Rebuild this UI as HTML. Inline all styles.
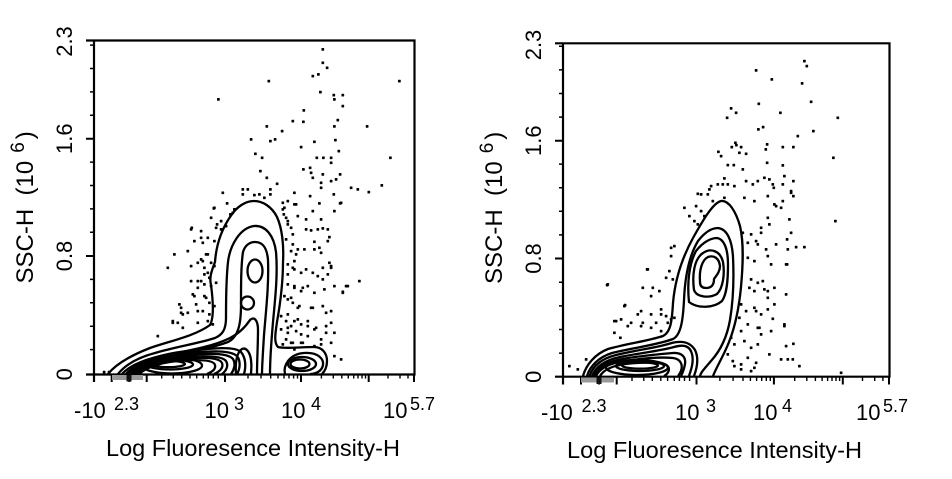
<!DOCTYPE html>
<html><head><meta charset="utf-8"><style>html,body{margin:0;padding:0;background:#fff}svg{display:block}</style></head>
<body>
<svg width="952" height="479" viewBox="0 0 952 479" xmlns="http://www.w3.org/2000/svg" font-family="'Liberation Sans', Arial, sans-serif" fill="#000">
<rect width="952" height="479" fill="#fff"/>

<!-- ================= LEFT PANEL ================= -->
<g stroke="#000" fill="none">
  <path d="M86 40.5H414.5V374.5H86M94 40.5V382" stroke-width="2.2"/>
  <path d="M86 138.7H94M86 256H94" stroke-width="2"/>
  <path d="M90 45.1H94M90 68.5H94M90 91.9H94M90 115.3H94M90 162.1H94M90 185.5H94M90 208.9H94M90 232.3H94M90 279.4H94M90 302.8H94M90 326.2H94M90 349.6H94" stroke-width="1.5"/>
  <path d="M111.7 374V382M129.3 374V382M146.7 374V382M225 374V382M301 374V382M368.7 374V382M414 374V382" stroke-width="2"/>
  <path d="M161.7 374V378.5M173.3 374V378.5M181.7 374V378.5M190 374V378.5M196.7 374V378.5M203.3 374V378.5M208.3 374V378.5M213.3 374V378.5M218.3 374V378.5M248 374V378.5M261 374V378.5M270.7 374V378.5M278 374V378.5M284 374V378.5M289 374V378.5M293.6 374V378.5M297.5 374V378.5M321.4 374V378.5M333.3 374V378.5M341.8 374V378.5M348.3 374V378.5M353.7 374V378.5M358 374V378.5M362 374V378.5M365.5 374V378.5M388 374V378.5M400 374V378.5M408 374V378.5" stroke-width="1.4"/>
</g>
<rect x="112" y="375" width="31" height="5" fill="#9a9a9a"/>
<rect x="126.5" y="375" width="5" height="6.5" fill="#111"/>

<!-- left contours -->
<g stroke="#000" fill="none" stroke-width="2.3">
  <path d="M108 374C116 364 132 355 150 348C170 341 195 336 210 325C214 318 213 300 211 285C209 277 212 270 215 262C216 248 220 232 230 217C237 206 246 201 254 201C263 201 272 207 277 217C282 228 284 245 283 262C283 285 280 305 277 322C275 335 274 343 278 347C284 349 300 347 314 347C322 347 327 353 327 361C327 367 325 371 322 374"/>
  <path d="M118 374C126 364 140 357 155 353C175 347 200 343 215 338C222 335 226 330 226 318C226 300 226 280 228 262C230 245 240 228 254 226C266 225 274 236 276 252C278 275 275 300 273 322C271 345 270 362 270 374"/>
  <path d="M126 374C134 365 150 359 168 356C190 352 212 348 228 342C238 337 241 325 241 305C241 285 241 265 243 252C245 245 250 242 255 242C263 242 267 248 268 260C269 285 266 310 264 335C263 352 262 366 262 374"/>
  <ellipse cx="255" cy="271" rx="7.5" ry="11.5"/>
  <ellipse cx="247.5" cy="303" rx="6.5" ry="6.5"/>
  <path d="M122 374C130 365 148 358 168 354.5C192 350 214 346 230 338C240 333 246 326 250 320C254 316 258 320 258 330C258 345 257 360 257 374"/>
  <path d="M128 374C136 363 158 354 188 351C215 348 234 346 241 352C246 358 246 367 244 374"/>
  <path d="M236 374C235 362 237 352 242 349C246 347 250 352 251 360C252 367 251 371 251 374"/>
  <path d="M131 374C138 364 160 356 188 353C212 351 230 350 237 356C241 361 240 369 237 374"/>
  <path d="M133 374C140 365 160 357 188 355C210 353 228 353 233 359C236 364 234 370 231 374"/>
  <path d="M135 374C142 366 162 359 187 357C207 355.5 222 356 226 361C229 366 226 371 222 374"/>
  <path d="M137 374C144 366 162 360 186 358.5C206 357 220 358 222 363C224 368 219 372 214 374"/>
  <path d="M139.5 374C146 367 163 361.5 185 360.5C202 359.5 214 360.5 215 365C216 369 212 372 207 374"/>
  <ellipse cx="172" cy="365.5" rx="30" ry="8"/>
  <ellipse cx="170" cy="364.5" rx="23" ry="5"/>
  <ellipse cx="168" cy="364" rx="17" ry="3.2"/>
  <path d="M285 374C283 366 289 354 304 353C318 352 324 359 323 365C322 371 316 374 310 374"/>
  <ellipse cx="302" cy="364" rx="14" ry="7"/>
  <ellipse cx="300" cy="364" rx="9.5" ry="4.5"/>
</g>

<!-- left dots -->
<path fill="#000" stroke="#000" stroke-width="0.5" d="M321.7 48.3h2.2v2.2h-2.2zM321.7 61.7h2.2v2.2h-2.2zM326 66.7h2.2v2.2h-2.2zM311.7 75h2.2v2.2h-2.2zM317.3 73.3h2.2v2.2h-2.2zM267.7 80h2.2v2.2h-2.2zM398.3 80h2.2v2.2h-2.2zM217.3 98.3h2.2v2.2h-2.2zM319.3 91h2.2v2.2h-2.2zM333.3 98.3h2.2v2.2h-2.2zM341.7 94h2.2v2.2h-2.2zM332.7 94h2.2v2.2h-2.2zM341.7 105h2.2v2.2h-2.2zM302.7 109.3h2.2v2.2h-2.2zM291.7 120h2.2v2.2h-2.2zM302.3 120.7h2.2v2.2h-2.2zM336.7 119h2.2v2.2h-2.2zM265.7 125.3h2.2v2.2h-2.2zM281 130h2.2v2.2h-2.2zM366 125.3h2.2v2.2h-2.2zM333.3 125.3h2.2v2.2h-2.2zM250 138.3h2.2v2.2h-2.2zM269.3 140h2.2v2.2h-2.2zM274 138.3h2.2v2.2h-2.2zM313.3 140.7h2.2v2.2h-2.2zM334.3 139h2.2v2.2h-2.2zM300 146h2.2v2.2h-2.2zM337.7 150h2.2v2.2h-2.2zM254.3 152.7h2.2v2.2h-2.2zM261 156.7h2.2v2.2h-2.2zM315.7 156.7h2.2v2.2h-2.2zM322.3 156.7h2.2v2.2h-2.2zM330 156.7h2.2v2.2h-2.2zM330 161.7h2.2v2.2h-2.2zM389.3 156.7h2.2v2.2h-2.2zM309 166.7h2.2v2.2h-2.2zM302.3 168.3h2.2v2.2h-2.2zM310 171.7h2.2v2.2h-2.2zM259.3 170h2.2v2.2h-2.2zM321.7 173.3h2.2v2.2h-2.2zM339 173.3h2.2v2.2h-2.2zM335 178.3h2.2v2.2h-2.2zM330 180h2.2v2.2h-2.2zM265.7 176.7h2.2v2.2h-2.2zM311.7 176.7h2.2v2.2h-2.2zM320 181.7h2.2v2.2h-2.2zM320 186.7h2.2v2.2h-2.2zM276 182.7h2.2v2.2h-2.2zM350 186.7h2.2v2.2h-2.2zM356.7 188.3h2.2v2.2h-2.2zM367.7 191h2.2v2.2h-2.2zM380.7 184.3h2.2v2.2h-2.2zM241.7 188.3h2.2v2.2h-2.2zM246.7 188.3h2.2v2.2h-2.2zM269.3 188.3h2.2v2.2h-2.2zM269.3 193.3h2.2v2.2h-2.2zM293.3 191.7h2.2v2.2h-2.2zM332.7 193.3h2.2v2.2h-2.2zM339 202.3h2.2v2.2h-2.2zM309 195h2.2v2.2h-2.2zM221.7 191.7h2.2v2.2h-2.2zM226 202.3h2.2v2.2h-2.2zM212.7 207.3h2.2v2.2h-2.2zM241.7 193.3h2.2v2.2h-2.2zM253.3 194h2.2v2.2h-2.2zM258.3 193.3h2.2v2.2h-2.2zM263.3 196.7h2.2v2.2h-2.2zM318.3 202.3h2.2v2.2h-2.2zM295 203.3h2.2v2.2h-2.2zM311.7 210h2.2v2.2h-2.2zM231.7 211.7h2.2v2.2h-2.2zM305 218.3h2.2v2.2h-2.2zM320 218.3h2.2v2.2h-2.2z
M281.7 201.7h2.2v2.2h-2.2zM286.7 200h2.2v2.2h-2.2zM293.3 203.3h2.2v2.2h-2.2zM340 201.7h2.2v2.2h-2.2zM213.3 206.7h2.2v2.2h-2.2zM233.3 208.3h2.2v2.2h-2.2zM281.7 208.3h2.2v2.2h-2.2zM282.7 213.3h2.2v2.2h-2.2zM285 216.7h2.2v2.2h-2.2zM286.7 220h2.2v2.2h-2.2zM290 226.7h2.2v2.2h-2.2zM333.3 210h2.2v2.2h-2.2zM296.7 215h2.2v2.2h-2.2zM305 228.3h2.2v2.2h-2.2zM316.7 228.3h2.2v2.2h-2.2zM326.7 228.3h2.2v2.2h-2.2zM190 228.3h2.2v2.2h-2.2zM200 230h2.2v2.2h-2.2zM206.7 236.7h2.2v2.2h-2.2zM215 226.7h2.2v2.2h-2.2zM220 228.3h2.2v2.2h-2.2zM225 225h2.2v2.2h-2.2zM201.7 241.7h2.2v2.2h-2.2zM213.3 240h2.2v2.2h-2.2zM285 238.3h2.2v2.2h-2.2zM291.7 243.3h2.2v2.2h-2.2zM296.7 248.3h2.2v2.2h-2.2zM303.3 248.3h2.2v2.2h-2.2zM313.3 248.3h2.2v2.2h-2.2zM320 251.7h2.2v2.2h-2.2zM330 265h2.2v2.2h-2.2zM166.7 266.7h2.2v2.2h-2.2zM190 265h2.2v2.2h-2.2zM196.7 261.7h2.2v2.2h-2.2zM200 258.3h2.2v2.2h-2.2zM206.7 253.3h2.2v2.2h-2.2zM210 261.7h2.2v2.2h-2.2zM203.3 266.7h2.2v2.2h-2.2zM213.3 265h2.2v2.2h-2.2zM286.7 263.3h2.2v2.2h-2.2zM291.7 266.7h2.2v2.2h-2.2zM300 271.7h2.2v2.2h-2.2zM305 268.3h2.2v2.2h-2.2zM311.7 271.7h2.2v2.2h-2.2zM316.7 275h2.2v2.2h-2.2zM326.7 273.3h2.2v2.2h-2.2zM190 280h2.2v2.2h-2.2zM196.7 280h2.2v2.2h-2.2zM203.3 283.3h2.2v2.2h-2.2zM208.3 276.7h2.2v2.2h-2.2zM210 285h2.2v2.2h-2.2zM215 281.7h2.2v2.2h-2.2zM286.7 283.3h2.2v2.2h-2.2zM293.3 285h2.2v2.2h-2.2zM300 290h2.2v2.2h-2.2zM306.7 285h2.2v2.2h-2.2zM313.3 291.7h2.2v2.2h-2.2zM323.3 288.3h2.2v2.2h-2.2zM333.3 285h2.2v2.2h-2.2zM341.7 291.7h2.2v2.2h-2.2zM346.7 285h2.2v2.2h-2.2zM193.3 295h2.2v2.2h-2.2zM203.3 295h2.2v2.2h-2.2zM208.3 301.7h2.2v2.2h-2.2zM213.3 305h2.2v2.2h-2.2zM178.3 303.3h2.2v2.2h-2.2zM180 311.7h2.2v2.2h-2.2zM186.7 311.7h2.2v2.2h-2.2zM196.7 310h2.2v2.2h-2.2zM283.3 295h2.2v2.2h-2.2zM286.7 298.3h2.2v2.2h-2.2zM291.7 301.7h2.2v2.2h-2.2zM298.3 305h2.2v2.2h-2.2zM310 306.7h2.2v2.2h-2.2zM321.7 305h2.2v2.2h-2.2zM330 310h2.2v2.2h-2.2zM171.7 320h2.2v2.2h-2.2zM176.7 321.7h2.2v2.2h-2.2zM181.7 326.7h2.2v2.2h-2.2zM196.7 321.7h2.2v2.2h-2.2zM206.7 320h2.2v2.2h-2.2zM211.7 323.3h2.2v2.2h-2.2zM280 315h2.2v2.2h-2.2zM285 320h2.2v2.2h-2.2zM290 325h2.2v2.2h-2.2zM296.7 318.3h2.2v2.2h-2.2zM300 323.3h2.2v2.2h-2.2zM306.7 320h2.2v2.2h-2.2zM313.3 328.3h2.2v2.2h-2.2zM330 321.7h2.2v2.2h-2.2zM280 328.3h2.2v2.2h-2.2zM286.7 331.7h2.2v2.2h-2.2zM295 330h2.2v2.2h-2.2zM306.7 335h2.2v2.2h-2.2zM320 338.3h2.2v2.2h-2.2zM333.3 331.7h2.2v2.2h-2.2zM285 338.3h2.2v2.2h-2.2zM291.7 341.7h2.2v2.2h-2.2zM300 341.7h2.2v2.2h-2.2zM313.3 345h2.2v2.2h-2.2zM320 343.3h2.2v2.2h-2.2zM333.3 355h2.2v2.2h-2.2zM340 358.3h2.2v2.2h-2.2zM103 371h2.2v2.2h-2.2zM108 371h2.2v2.2h-2.2z
M156.7 335h2.2v2.2h-2.2zM173.3 253.3h2.2v2.2h-2.2zM171.7 321.7h2.2v2.2h-2.2zM180 306.7h2.2v2.2h-2.2zM181.7 313.3h2.2v2.2h-2.2zM186.7 250h2.2v2.2h-2.2zM190.7 226.7h2.2v2.2h-2.2zM193.3 240h2.2v2.2h-2.2zM200 236.7h2.2v2.2h-2.2zM201.7 260h2.2v2.2h-2.2zM205 253.3h2.2v2.2h-2.2zM196.7 286.7h2.2v2.2h-2.2zM200 280h2.2v2.2h-2.2zM205 296.7h2.2v2.2h-2.2zM206.7 271.7h2.2v2.2h-2.2zM191.7 293.3h2.2v2.2h-2.2zM195 303.3h2.2v2.2h-2.2zM201.7 310h2.2v2.2h-2.2zM208.3 313.3h2.2v2.2h-2.2zM203.3 273.3h2.2v2.2h-2.2zM210 216.7h2.2v2.2h-2.2zM216 223.3h2.2v2.2h-2.2zM220 220h2.2v2.2h-2.2zM229.3 213.3h2.2v2.2h-2.2zM283.3 206.7h2.2v2.2h-2.2zM286.7 223.3h2.2v2.2h-2.2zM291.7 233.3h2.2v2.2h-2.2zM290 250h2.2v2.2h-2.2zM295 253.3h2.2v2.2h-2.2zM286.7 273.3h2.2v2.2h-2.2zM293.3 286.7h2.2v2.2h-2.2zM290 296.7h2.2v2.2h-2.2zM296.7 306.7h2.2v2.2h-2.2zM286.7 313.3h2.2v2.2h-2.2zM293.3 320h2.2v2.2h-2.2zM286.7 326.7h2.2v2.2h-2.2zM300 333.3h2.2v2.2h-2.2zM290 341.7h2.2v2.2h-2.2zM301.7 341.7h2.2v2.2h-2.2zM281.7 343.3h2.2v2.2h-2.2zM293.3 348.3h2.2v2.2h-2.2zM306.7 325h2.2v2.2h-2.2zM315 326.7h2.2v2.2h-2.2zM325 325h2.2v2.2h-2.2zM325 331.7h2.2v2.2h-2.2zM330 341.7h2.2v2.2h-2.2zM311.7 306.7h2.2v2.2h-2.2zM325 311.7h2.2v2.2h-2.2zM328.3 261.7h2.2v2.2h-2.2zM330 266.7h2.2v2.2h-2.2zM358.3 280h2.2v2.2h-2.2zM345 285h2.2v2.2h-2.2zM341.7 290.7h2.2v2.2h-2.2zM321.7 266.7h2.2v2.2h-2.2zM321.7 278.3h2.2v2.2h-2.2zM293.3 260h2.2v2.2h-2.2zM293.3 268.3h2.2v2.2h-2.2zM301.7 286.7h2.2v2.2h-2.2zM310 229.3h2.2v2.2h-2.2zM321.7 227.3h2.2v2.2h-2.2zM328.3 236h2.2v2.2h-2.2zM313.3 240.7h2.2v2.2h-2.2zM318.3 246.7h2.2v2.2h-2.2zM326.7 240h2.2v2.2h-2.2z"/>

<!-- left labels -->
<g font-size="22">
  <text x="74" y="418">-10</text>
  <text x="204.5" y="418">10</text>
  <text x="281" y="418">10</text>
  <text x="383" y="418">10</text>
</g>
<g font-size="18">
  <text x="114" y="410">2.3</text>
  <text x="234" y="410">3</text>
  <text x="311" y="410">4</text>
  <text x="410" y="410">5.7</text>
</g>
<g font-size="22" text-anchor="middle">
  <text transform="translate(72 41.5) rotate(-90)">2.3</text>
  <text transform="translate(72 138.7) rotate(-90)">1.6</text>
  <text transform="translate(72 256) rotate(-90)">0.8</text>
  <text transform="translate(72 374.3) rotate(-90)">0</text>
</g>
<text transform="translate(33 283.5) rotate(-90)" font-size="24">SSC-H&#160;&#160;(10<tspan font-size="19" dy="-9" dx="8">6</tspan><tspan dy="9" dx="3">)</tspan></text>
<text x="106" y="456" font-size="23" textLength="294" lengthAdjust="spacingAndGlyphs">Log Fluoresence Intensity-H</text>

<!-- ================= RIGHT PANEL ================= -->
<g stroke="#000" fill="none">
  <path d="M555 43.3H889.5V376.7H555M563 43.3V384.5" stroke-width="2.2"/>
  <path d="M555 140.7H563M555 258.5H563" stroke-width="2"/>
  <path d="M559 46.3H563M559 69.9H563M559 93.5H563M559 117.1H563M559 164.1H563M559 187.7H563M559 211.3H563M559 234.9H563M559 282.3H563M559 305.9H563M559 329.5H563M559 353.1H563" stroke-width="1.5"/>
  <path d="M581 376.7V384.5M599 376.7V384.5M616.7 376.7V384.5M696.5 376.7V384.5M773.9 376.7V384.5M842.8 376.7V384.5M889 376.7V384.5" stroke-width="2"/>
  <path d="M632 376.7V381M643.8 376.7V381M652.3 376.7V381M660.8 376.7V381M667.6 376.7V381M674.3 376.7V381M679.4 376.7V381M684.5 376.7V381M689.6 376.7V381M719.9 376.7V381M733.1 376.7V381M743 376.7V381M750.4 376.7V381M756.6 376.7V381M761.7 376.7V381M766.3 376.7V381M770.3 376.7V381M794.7 376.7V381M806.8 376.7V381M815.4 376.7V381M822.1 376.7V381M827.6 376.7V381M832 376.7V381M836 376.7V381M839.6 376.7V381M862.5 376.7V381M874.7 376.7V381M882.9 376.7V381" stroke-width="1.4"/>
</g>
<rect x="581" y="377.5" width="33" height="5" fill="#9a9a9a"/>
<rect x="596.5" y="377.5" width="5" height="6.5" fill="#111"/>

<!-- right contours -->
<g stroke="#000" fill="none" stroke-width="2.3">
  <path d="M583 376C586 365 595 354 608 349C625 344 648 341 663 336C671 332 672 320 673 303C675 280 682 258 693 238C703 220 713 203 721 201C729 200 736 212 740 226C744 243 743 265 741 287C739 308 735 327 729 342C724 355 717 366 713 376"/>
  <path d="M587 376C590 366 599 357 612 353C632 348 657 345 673 339C681 335 683 320 684 300C685 276 689 256 698 241C705 232 712 228 718 228C727 229 732 240 733 257C734 278 733 302 730 320C727 337 721 350 711 361C705 368 701 372 700 376"/>
  <path d="M689 302C687 283 689 264 696 251C703 242 711 238 717 238C724 239 728 249 728 264C728 280 727 294 722 301C714 308 698 309 689 302Z"/>
  <path d="M694 290C692 275 694 259 703 253C710 248 720 250 723 262C725 274 723 288 717 294C710 298 697 298 694 290Z"/>
  <path d="M700 282C699 270 702 260 708 257C714 255 719 258 720 266C720 272 716 276 714 279C714 284 712 288 706 288C702 288 700 286 700 282Z"/>
  <path d="M589.5 376C593 366 602 358.5 616 355C636 350 656 348 670 343.5C682 340 690 342 695 350C699 358 697 368 694 376"/>
  <path d="M592 376C596 366 606 360 620 357C640 353 660 351 674 347C684 344 690 346 692 354C694 362 691 370 689 376"/>
  <path d="M594 376C598 367 608 361.5 622 359C642 355.5 661 354 673 353C682 352.5 686 357 685 364C684 370 682 374 681 376"/>
  <path d="M596 376C600 368 610 363 625 361C645 358 663 357 673 358C681 359 683 365 681 371C680 373 679 375 678 376"/>
  <path d="M600 376C604 369 614 365 630 363.5C646 362 662 362 667 365.5C671 369 668 374 664 376"/>
  <ellipse cx="637" cy="367.5" rx="31" ry="7.5"/>
  <ellipse cx="640" cy="366" rx="24" ry="5"/>
  <ellipse cx="640" cy="365.5" rx="18" ry="3.2"/>
</g>

<!-- right dots -->
<path fill="#000" stroke="#000" stroke-width="0.5" d="M803.3 60h2.2v2.2h-2.2zM805.7 65h2.2v2.2h-2.2zM755 69.3h2.2v2.2h-2.2zM770.7 78.3h2.2v2.2h-2.2zM801 82.3h2.2v2.2h-2.2zM810 100.7h2.2v2.2h-2.2zM757.7 102.7h2.2v2.2h-2.2zM730 107.3h2.2v2.2h-2.2zM735 111.7h2.2v2.2h-2.2zM779.3 111.7h2.2v2.2h-2.2zM726 116.7h2.2v2.2h-2.2zM836.7 116.7h2.2v2.2h-2.2zM762 126h2.2v2.2h-2.2zM757.3 128.3h2.2v2.2h-2.2zM812.3 130h2.2v2.2h-2.2zM796.7 135h2.2v2.2h-2.2zM734.3 141.7h2.2v2.2h-2.2zM740 146h2.2v2.2h-2.2zM730.7 146h2.2v2.2h-2.2zM735.3 144h2.2v2.2h-2.2zM766 143.3h2.2v2.2h-2.2zM764.7 148.3h2.2v2.2h-2.2zM781.7 146h2.2v2.2h-2.2zM792.3 146h2.2v2.2h-2.2zM717.3 150.7h2.2v2.2h-2.2zM720 155h2.2v2.2h-2.2zM745 152.7h2.2v2.2h-2.2zM738.3 151.7h2.2v2.2h-2.2zM832.3 156.7h2.2v2.2h-2.2zM766 161.7h2.2v2.2h-2.2zM781.7 164.3h2.2v2.2h-2.2zM726.7 164h2.2v2.2h-2.2zM732.7 164h2.2v2.2h-2.2zM741.7 168.3h2.2v2.2h-2.2zM763.3 176.7h2.2v2.2h-2.2zM768.3 178.3h2.2v2.2h-2.2zM756.7 180h2.2v2.2h-2.2zM771.7 183.3h2.2v2.2h-2.2zM772.7 186.7h2.2v2.2h-2.2zM783.3 175h2.2v2.2h-2.2zM781.7 183.3h2.2v2.2h-2.2zM792.3 180h2.2v2.2h-2.2zM790 190h2.2v2.2h-2.2zM745 180h2.2v2.2h-2.2zM751.7 183.3h2.2v2.2h-2.2zM710 185h2.2v2.2h-2.2zM716.7 183.3h2.2v2.2h-2.2zM721.7 183.3h2.2v2.2h-2.2zM726.7 183.3h2.2v2.2h-2.2zM733.3 185h2.2v2.2h-2.2zM723.3 177.3h2.2v2.2h-2.2zM708.3 188.3h2.2v2.2h-2.2zM706.7 193.3h2.2v2.2h-2.2zM700 193.3h2.2v2.2h-2.2zM696.7 192.7h2.2v2.2h-2.2zM834.3 220h2.2v2.2h-2.2zM795 246h2.2v2.2h-2.2zM786 263.3h2.2v2.2h-2.2z
M683.3 206.7h2.2v2.2h-2.2zM695 205h2.2v2.2h-2.2zM700 210h2.2v2.2h-2.2zM703.3 215h2.2v2.2h-2.2zM696.7 223.3h2.2v2.2h-2.2zM711.7 200h2.2v2.2h-2.2zM723.3 196.7h2.2v2.2h-2.2zM743.3 196.7h2.2v2.2h-2.2zM753.3 200h2.2v2.2h-2.2zM773.3 203.3h2.2v2.2h-2.2zM780 206.7h2.2v2.2h-2.2zM766.7 195h2.2v2.2h-2.2zM688.3 215h2.2v2.2h-2.2zM693.3 220h2.2v2.2h-2.2zM741.7 231.7h2.2v2.2h-2.2zM750 233.3h2.2v2.2h-2.2zM760 231.7h2.2v2.2h-2.2zM746.7 241.7h2.2v2.2h-2.2zM756.7 243.3h2.2v2.2h-2.2zM765 248.3h2.2v2.2h-2.2zM775 243.3h2.2v2.2h-2.2zM786.7 248.3h2.2v2.2h-2.2zM746.7 256.7h2.2v2.2h-2.2zM753.3 260h2.2v2.2h-2.2zM766.7 255h2.2v2.2h-2.2zM770 263.3h2.2v2.2h-2.2zM785 263.3h2.2v2.2h-2.2zM673.3 245h2.2v2.2h-2.2zM670 255h2.2v2.2h-2.2zM646.7 268.3h2.2v2.2h-2.2zM606.7 283.3h2.2v2.2h-2.2zM641.7 286.7h2.2v2.2h-2.2zM651.7 286.7h2.2v2.2h-2.2zM658.3 290h2.2v2.2h-2.2zM668.3 270h2.2v2.2h-2.2zM671.7 278.3h2.2v2.2h-2.2zM750 278.3h2.2v2.2h-2.2zM756.7 281.7h2.2v2.2h-2.2zM761.7 280h2.2v2.2h-2.2zM748.3 286.7h2.2v2.2h-2.2zM753.3 290h2.2v2.2h-2.2zM766.7 290h2.2v2.2h-2.2zM773.3 286.7h2.2v2.2h-2.2zM785 293.3h2.2v2.2h-2.2zM623.3 305h2.2v2.2h-2.2zM640 310h2.2v2.2h-2.2zM650 313.3h2.2v2.2h-2.2zM660 308.3h2.2v2.2h-2.2zM665 315h2.2v2.2h-2.2zM670 318.3h2.2v2.2h-2.2zM740 303.3h2.2v2.2h-2.2zM745 310h2.2v2.2h-2.2zM753.3 306.7h2.2v2.2h-2.2zM760 313.3h2.2v2.2h-2.2zM766.7 308.3h2.2v2.2h-2.2zM773.3 303.3h2.2v2.2h-2.2zM613.3 320h2.2v2.2h-2.2zM620 318.3h2.2v2.2h-2.2zM630 321.7h2.2v2.2h-2.2zM640 325h2.2v2.2h-2.2zM650 326.7h2.2v2.2h-2.2zM655 321.7h2.2v2.2h-2.2zM660 330h2.2v2.2h-2.2zM738.3 316.7h2.2v2.2h-2.2zM740 330h2.2v2.2h-2.2zM746.7 323.3h2.2v2.2h-2.2zM756.7 326.7h2.2v2.2h-2.2zM760 333.3h2.2v2.2h-2.2zM770 330h2.2v2.2h-2.2zM783.3 323.3h2.2v2.2h-2.2zM730 336.7h2.2v2.2h-2.2zM733.3 343.3h2.2v2.2h-2.2zM743.3 340h2.2v2.2h-2.2zM750 346.7h2.2v2.2h-2.2zM756.7 343.3h2.2v2.2h-2.2zM768.3 353.3h2.2v2.2h-2.2zM726.7 353.3h2.2v2.2h-2.2zM731.7 360h2.2v2.2h-2.2zM740 363.3h2.2v2.2h-2.2zM746.7 356.7h2.2v2.2h-2.2zM753.3 366.7h2.2v2.2h-2.2zM780 358.3h2.2v2.2h-2.2zM786.7 358.3h2.2v2.2h-2.2zM568.3 365h2.2v2.2h-2.2zM576.7 368.3h2.2v2.2h-2.2zM585 358.3h2.2v2.2h-2.2zM733.3 365h2.2v2.2h-2.2zM740 368.3h2.2v2.2h-2.2zM750 370h2.2v2.2h-2.2zM755 361.7h2.2v2.2h-2.2zM798.3 365h2.2v2.2h-2.2zM840 371.7h2.2v2.2h-2.2zM791.7 358.3h2.2v2.2h-2.2zM785 345h2.2v2.2h-2.2zM792.3 342.7h2.2v2.2h-2.2zM783.3 325h2.2v2.2h-2.2zM771.7 317.7h2.2v2.2h-2.2zM763.3 288.3h2.2v2.2h-2.2zM766.7 296.7h2.2v2.2h-2.2zM755 310h2.2v2.2h-2.2zM758.3 326.7h2.2v2.2h-2.2zM803.3 246h2.2v2.2h-2.2zM786 238.3h2.2v2.2h-2.2zM790 231.7h2.2v2.2h-2.2zM788.3 218.3h2.2v2.2h-2.2zM790 191.7h2.2v2.2h-2.2zM792.3 195h2.2v2.2h-2.2zM781.7 200h2.2v2.2h-2.2zM775 205h2.2v2.2h-2.2zM766.7 216.7h2.2v2.2h-2.2zM768.3 223.3h2.2v2.2h-2.2zM760 226.7h2.2v2.2h-2.2zM755 240h2.2v2.2h-2.2zM606 284h2.2v2.2h-2.2zM624 304h2.2v2.2h-2.2zM615 320h2.2v2.2h-2.2zM626.7 325h2.2v2.2h-2.2zM646 268.3h2.2v2.2h-2.2zM650 295h2.2v2.2h-2.2zM670 246.7h2.2v2.2h-2.2zM665 276.7h2.2v2.2h-2.2zM660 313.3h2.2v2.2h-2.2zM666.7 321.7h2.2v2.2h-2.2zM673.3 316.7h2.2v2.2h-2.2zM636.7 313.3h2.2v2.2h-2.2zM613.3 331.7h2.2v2.2h-2.2zM619.3 336.7h2.2v2.2h-2.2zM641.7 321.7h2.2v2.2h-2.2z"/>

<!-- right labels -->
<g font-size="22">
  <text x="541" y="420">-10</text>
  <text x="675" y="420">10</text>
  <text x="753" y="420">10</text>
  <text x="856" y="420">10</text>
</g>
<g font-size="18">
  <text x="581.5" y="412">2.3</text>
  <text x="706" y="412">3</text>
  <text x="782" y="412">4</text>
  <text x="883" y="412">5.7</text>
</g>
<g font-size="22" text-anchor="middle">
  <text transform="translate(541 45) rotate(-90)">2.3</text>
  <text transform="translate(541 140.7) rotate(-90)">1.6</text>
  <text transform="translate(541 258.5) rotate(-90)">0.8</text>
  <text transform="translate(541 376.7) rotate(-90)">0</text>
</g>
<text transform="translate(502 284) rotate(-90)" font-size="24">SSC-H&#160;&#160;(10<tspan font-size="19" dy="-9" dx="8">6</tspan><tspan dy="9" dx="3">)</tspan></text>
<text x="567" y="458" font-size="23" textLength="295" lengthAdjust="spacingAndGlyphs">Log Fluoresence Intensity-H</text>
</svg>
</body></html>
